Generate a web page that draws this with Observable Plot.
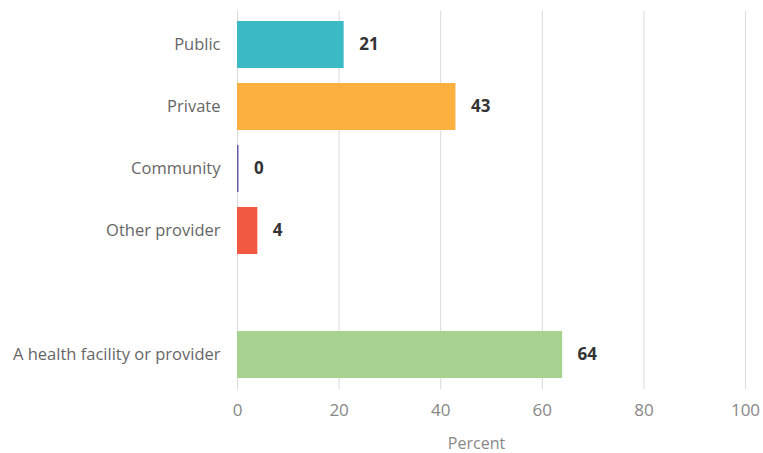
<!DOCTYPE html>
<html>
<head>
<meta charset="utf-8">
<script src="https://cdn.jsdelivr.net/npm/d3@7"></script>
<script src="https://cdn.jsdelivr.net/npm/@observablehq/plot@0.6"></script>
<style>
  body { margin: 0; background: #fff; }
  #chart svg { display: block; }
</style>
</head>
<body>
<div id="chart"></div>
<script>
const categories = ["Public", "Private", "Community", "Other provider", " ", "A health facility or provider"];
const barCategories = ["Public", "Private", "Community", "Other provider", "A health facility or provider"];
const values = [21, 43, 0.3, 4, 64];
const labels = ["21", "43", "0", "4", "64"];
const colors = ["#3BBAC6", "#FBB040", "#6B5EA8", "#F15A40", "#A8D28F"];
const xTicks = [0, 20, 40, 60, 80, 100];
const xLabel = "Percent";

const data = barCategories.map((c, i) => ({category: c, value: values[i], label: labels[i], color: colors[i]}));

const font = "'Open Sans', sans-serif";

const chart = Plot.plot({
  width: 763,
  height: 453,
  marginLeft: 237,
  marginRight: 18,
  marginTop: 11,
  marginBottom: 64,
  style: {fontFamily: font, background: "#fff"},
  x: {domain: [0, 100]},
  y: {domain: categories, paddingInner: 0.236, paddingOuter: 0.12},
  marks: [
    Plot.gridX(xTicks, {stroke: "#d9d9d9", strokeOpacity: 1, strokeWidth: 1}),
    Plot.barX(data, {x: "value", y: "category", fill: "color"}),
    Plot.text(data, {x: "value", y: "category", text: "label", textAnchor: "start", dx: 15,
      fill: "#333", fontWeight: "bold", fontSize: 17}),
    Plot.axisY({tickSize: 0, tickPadding: 17, label: null, fontSize: 16.5, color: "#666"}),
    Plot.axisX({ticks: xTicks, tickSize: 0, tickPadding: 14, label: null, fontSize: 17, color: "#888"}),
    Plot.text([xLabel], {text: d => d, frameAnchor: "bottom", dy: 59, dx: -15, fontSize: 16, fill: "#888"})
  ]
});
document.getElementById("chart").append(chart);
</script>
</body>
</html>
